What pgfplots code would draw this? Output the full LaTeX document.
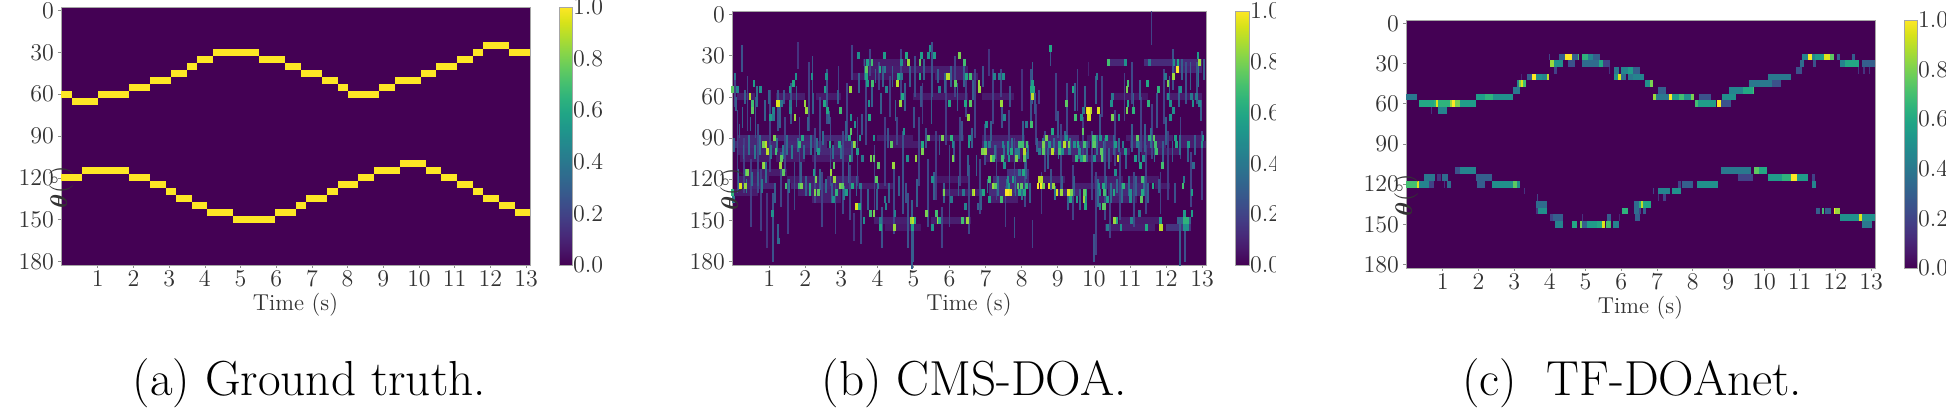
\documentclass[border=0pt]{standalone}
\usepackage{amsmath}
\usepackage{pgfplots}
\usepackage{pgfplotstable}
\pgfplotsset{compat=1.18}
\definecolor{vzero}{RGB}{68,1,84}
\pgfdeclareplotmark{cell}{%
  \pgfpathrectangle{\pgfpoint{-0.5*\cellw pt}{-0.5*\cellh pt}}{\pgfpoint{\cellw pt}{\cellh pt}}%
  \pgfusepathqfill}
\pgfplotsset{
  cellbase/.style={only marks,scatter,scatter src=explicit,mark=cell,
    scatter/use mapped color={fill=mapped color,draw=none}},
  seg/.style 2 args={cellbase,
    visualization depends on={(\thisrow{t1}-\thisrow{t0})*#1 \as \cellw},
    visualization depends on={#2 \as \cellh}},
  spot/.style 2 args={cellbase,
    visualization depends on={0.075*#1 \as \cellw},
    visualization depends on={#2 \as \cellh}},
  streak/.style 2 args={cellbase,
    visualization depends on={0.05*#1 \as \cellw},
    visualization depends on={\thisrow{h}/5*#2 \as \cellh}},
  panel/.style={
    scale only axis,
    colormap/viridis,
    point meta min=0,point meta max=1,
    xmin=-0.03,xmax=13.11,
    ymin=-2.5,ymax=182.5,y dir=reverse,
    xtick={1,...,13},ytick={0,30,...,180},
    axis background/.style={fill=vzero},
    axis line style={draw=black!35,line width=0.4pt},
    tick style={draw=black!45,line width=0.3pt},
    tick align=outside,
    major tick length=1.5pt,
    xtick pos=bottom,ytick pos=left,
    tick label style={font=\fontsize{12.5}{14}\selectfont,text=black!80},
    xticklabel style={yshift=2pt},
    yticklabel style={xshift=1.5pt},
    xlabel={Time (s)},ylabel={$\boldsymbol{\theta}(^\circ)$},
    label style={font=\fontsize{11.5}{13}\selectfont,text=black!80},
    xlabel style={at={(axis description cs:0.5,0)},anchor=center,yshift=-20pt},
    ylabel style={at={(axis description cs:0,0.5)},anchor=center,xshift=-25.5pt,rotate=0},
    colorbar,
  },
  cb/.style 2 args={colorbar style={
      at={(parent axis.south east)},anchor=south west,xshift=6pt,
      width=#1,height=#2,
      ytick={0,0.2,...,1},
      y dir=normal,
      axis line style={draw=black!35,line width=0.4pt},
      major tick length=0pt,
      yticklabel pos=right,
      tick label style={font=\fontsize{12.5}{14}\selectfont,text=black!80},
      yticklabel style={/pgf/number format/fixed,/pgf/number format/fixed zerofill,/pgf/number format/precision=1,xshift=-3pt},
      xlabel={},ylabel={},
  }},
}
% ---------- (a) ground truth: t0 t1 theta value
\pgfplotstableread{
t0 t1 th v
-0.03 0.27 60 1
0.27 1.00 65 1
1.00 1.87 60 1
1.87 2.45 55 1
2.45 3.04 50 1
3.04 3.49 45 1
3.49 3.78 40 1
3.78 4.22 35 1
4.22 5.52 30 1
5.52 6.25 35 1
6.25 6.68 40 1
6.68 7.28 45 1
7.28 7.72 50 1
7.72 8.01 55 1
8.01 8.88 60 1
8.88 9.32 55 1
9.32 10.05 50 1
10.05 10.48 45 1
10.48 11.07 40 1
11.07 11.50 35 1
11.50 11.80 30 1
11.80 12.53 25 1
12.53 13.12 30 1
-0.03 0.56 120 1
0.56 1.87 115 1
1.87 2.45 120 1
2.45 2.90 125 1
2.90 3.20 130 1
3.20 3.63 135 1
3.63 4.07 140 1
4.07 4.80 145 1
4.80 5.97 150 1
5.97 6.56 145 1
6.56 6.84 140 1
6.84 7.43 135 1
7.43 7.72 130 1
7.72 8.30 125 1
8.30 8.73 120 1
8.73 9.46 115 1
9.46 10.20 110 1
10.20 10.63 115 1
10.63 11.07 120 1
11.07 11.50 125 1
11.50 11.80 130 1
11.80 12.24 135 1
12.24 12.68 140 1
12.68 13.12 145 1
}\tga
% ---------- (b) CMS-DOA: wide faint stretches
\pgfplotstableread{
t0 t1 th v
0.10 1.00 90 .11
1.20 2.30 90 .1
2.50 3.20 90 .11
4.00 5.00 90 .07
5.40 6.40 90 .07
6.90 8.10 90 .08
8.60 9.60 90 .11
9.80 10.60 90 .08
10.90 12.20 90 .08
12.40 13.00 90 .08
0.00 1.20 95 .11
1.40 2.60 95 .11
2.80 3.30 95 .1
4.40 5.20 95 .07
6.90 8.20 95 .12
8.40 9.90 95 .14
10.00 10.70 95 .11
11.00 12.00 95 .1
12.40 13.10 95 .08
0.10 0.90 100 .1
1.00 2.20 100 .08
2.40 3.30 100 .11
6.90 8.20 100 .08
8.50 9.80 100 .11
10.00 11.00 100 .08
11.30 12.40 100 .07
0.20 1.00 105 .07
1.20 2.00 105 .07
2.20 3.20 105 .07
7.00 8.00 105 .07
9.40 10.50 105 .07
0.40 1.50 115 .07
7.60 8.20 115 .14
0.10 1.00 120 .08
1.50 2.40 120 .07
2.60 3.50 120 .1
5.50 6.50 120 .06
7.20 8.20 120 .12
8.60 9.20 120 .08
10.00 10.80 120 .08
11.00 11.80 120 .07
0.10 1.20 125 .1
1.60 3.20 125 .1
3.30 4.50 125 .07
7.10 8.20 125 .12
9.40 10.40 125 .08
10.40 11.40 125 .11
11.70 12.10 125 .07
0.00 0.70 130 .07
1.80 3.00 130 .08
5.80 6.90 130 .08
7.10 8.10 130 .12
8.90 9.60 130 .11
10.40 11.40 130 .11
7.10 7.90 135 .08
2.20 3.00 135 .08
10.10 11.20 135 .08
0.10 0.60 60 .08
1.20 2.00 60 .08
2.30 3.00 60 .07
5.00 6.50 60 .07
6.90 7.80 60 .07
10.50 11.50 60 .06
12.00 13.00 60 .08
3.70 5.40 40 .08
5.40 6.50 40 .08
12.20 13.00 40 .1
3.60 4.80 35 .07
10.40 10.90 35 .11
11.40 13.00 35 .12
3.30 4.60 45 .06
5.60 6.80 45 .08
3.90 5.00 150 .08
5.50 6.60 150 .08
10.70 11.90 150 .07
12.30 12.70 150 .3
4.20 5.20 155 .06
10.30 11.70 155 .08
12.00 12.70 155 .15
}\tbw
% ---------- (b) thin vertical streaks: t theta span value
\pgfplotstableread{
t th h v
.05 55 25 .2
.12 100 60 .2
.25 32 20 .25
.30 110 40 .18
.40 65 40 .2
.50 130 50 .18
.62 75 30 .25
.70 105 50 .22
.78 135 45 .18
.95 150 40 .15
1.03 85 60 .2
1.10 155 50 .25
1.25 70 30 .25
1.32 120 40 .2
1.44 95 40 .2
1.52 140 40 .18
1.60 65 30 .25
1.70 125 35 .22
1.80 30 20 .15
1.84 100 50 .2
2.10 60 50 .18
2.20 45 30 .25
2.28 110 55 .2
2.40 80 40 .2
2.47 135 40 .2
2.60 60 40 .25
2.70 100 50 .22
2.84 140 40 .2
2.92 50 25 .2
3.05 115 60 .22
3.15 70 40 .2
3.25 130 40 .2
3.35 155 20 .15
3.30 35 25 .2
3.45 100 50 .2
3.55 145 45 .22
3.68 70 50 .2
3.80 35 20 .2
3.92 120 50 .2
4.05 45 20 .2
4.12 155 30 .25
4.22 100 50 .18
4.35 60 30 .18
4.45 135 50 .22
4.55 85 20 .2
4.65 45 40 .2
4.72 115 60 .25
4.85 150 40 .25
4.95 160 50 .3
5.00 165 30 .3
5.05 45 30 .22
5.15 100 50 .2
5.25 65 30 .18
5.40 130 50 .22
5.52 40 40 .25
5.62 110 50 .18
5.78 155 30 .2
5.90 70 50 .18
6.00 125 60 .22
6.15 45 30 .2
6.30 100 50 .2
6.45 60 30 .2
6.55 135 50 .22
6.70 65 50 .2
6.85 125 40 .2
6.98 95 30 .22
7.10 35 20 .15
7.20 60 40 .2
7.30 115 40 .2
7.42 50 20 .2
7.55 140 30 .2
7.65 85 30 .18
7.80 110 40 .2
7.80 155 15 .25
8.00 55 30 .15
8.10 120 40 .22
8.25 60 40 .25
8.30 50 30 .3
8.30 160 20 .2
8.40 80 30 .18
8.55 130 30 .18
8.65 100 30 .22
8.80 30 15 .25
8.95 60 35 .2
9.10 105 50 .2
9.25 70 40 .22
9.42 130 40 .2
9.55 55 30 .2
9.70 90 30 .18
9.85 40 10 .1
9.95 110 50 .2
10.00 170 20 .25
10.05 145 60 .2
10.22 60 30 .2
10.30 120 60 .22
10.45 150 25 .2
10.58 90 40 .18
10.72 125 50 .2
10.85 60 35 .18
11.05 50 30 .22
11.12 135 40 .22
11.30 80 40 .2
11.45 120 50 .2
11.60 10 25 .2
11.62 85 40 .2
11.85 130 30 .2
11.95 60 40 .2
12.05 110 50 .18
12.20 40 30 .25
12.38 168 30 .3
12.40 90 30 .2
12.52 165 30 .25
12.55 50 30 .25
12.70 120 40 .2
12.85 50 30 .25
13.00 110 50 .2
1.24 160 15 .3
.03 95 10 .3
.08 65 10 .3
.15 120 15 .35
.18 85 10 .25
.26 75 15 .3
.29 100 10 .3
.32 60 10 .3
.37 125 10 .4
.44 95 15 .35
.48 80 10 .3
.52 120 10 .35
.60 100 10 .4
.66 60 15 .35
.68 120 10 .3
.74 95 15 .35
.80 125 10 .4
.88 70 15 .3
.92 115 15 .35
1.00 60 10 .3
1.06 100 10 .4
1.16 130 15 .3
1.21 95 10 .35
1.29 75 15 .3
1.38 100 10 .4
1.42 60 10 .25
1.50 95 15 .35
1.56 125 10 .35
1.64 100 10 .4
1.76 60 15 .3
1.79 95 10 .35
1.88 115 15 .3
1.96 100 10 .35
2.02 125 15 .3
2.08 80 10 .3
2.16 95 15 .35
2.22 65 15 .3
2.33 95 10 .35
2.42 120 15 .3
2.50 90 10 .35
2.57 125 10 .35
2.65 75 10 .3
2.74 130 15 .3
2.78 100 10 .35
2.90 60 10 .3
2.99 100 10 .35
3.08 130 10 .4
3.12 85 15 .3
3.20 115 15 .3
3.30 100 15 .3
3.42 125 15 .3
3.50 50 15 .3
3.58 80 15 .25
3.64 40 15 .3
3.75 135 15 .3
3.84 60 15 .3
3.95 45 10 .3
4.00 135 15 .3
4.10 65 15 .3
4.16 45 15 .3
4.30 90 15 .25
4.33 130 15 .3
4.42 45 15 .3
4.50 70 15 .3
4.60 125 15 .3
4.76 60 20 .3
4.80 130 15 .25
4.90 45 15 .3
5.02 75 15 .25
5.10 130 20 .3
5.20 60 15 .25
5.30 40 15 .3
5.35 90 15 .25
5.50 70 20 .3
5.56 125 20 .3
5.68 45 10 .3
5.72 95 15 .25
5.84 130 15 .3
5.88 50 15 .3
6.05 45 15 .3
6.12 100 15 .25
6.22 60 20 .3
6.25 125 15 .3
6.34 85 15 .25
6.40 45 15 .3
6.52 110 15 .3
6.62 90 15 .3
6.66 55 15 .3
6.75 110 15 .3
6.88 135 15 .3
6.92 45 15 .25
7.05 125 10 .35
7.15 85 15 .3
7.26 100 10 .35
7.35 125 15 .35
7.45 75 15 .25
7.52 100 10 .35
7.60 125 10 .35
7.68 60 15 .25
7.74 95 10 .35
7.83 125 15 .35
7.92 100 10 .4
8.00 130 10 .35
8.04 85 15 .3
8.12 110 20 .3
8.18 100 10 .35
8.22 130 15 .3
8.36 65 15 .25
8.42 95 10 .3
8.48 60 10 .2
8.58 95 10 .35
8.72 105 15 .3
8.82 120 15 .25
8.90 95 10 .35
8.93 130 10 .4
9.00 80 20 .25
9.02 100 10 .4
9.12 125 15 .3
9.20 90 10 .35
9.28 135 15 .3
9.35 95 10 .4
9.45 125 15 .3
9.48 60 20 .3
9.58 100 10 .35
9.62 135 15 .3
9.75 60 15 .3
9.80 100 15 .3
10.05 55 20 .3
10.08 95 15 .35
10.12 130 20 .35
10.18 80 15 .25
10.27 100 15 .35
10.33 125 15 .3
10.42 105 15 .3
10.48 130 15 .35
10.55 95 15 .3
10.65 125 10 .35
10.70 95 10 .35
10.78 130 15 .35
10.90 105 15 .3
10.98 125 15 .35
11.05 90 20 .3
11.10 65 15 .3
11.18 125 15 .3
11.25 100 15 .3
11.28 55 15 .3
11.38 125 15 .35
11.42 90 20 .3
11.50 130 15 .3
11.58 90 15 .35
11.68 100 15 .35
11.74 70 25 .25
11.80 125 10 .25
11.92 100 15 .3
12.00 85 20 .3
12.10 55 20 .3
12.18 100 15 .3
12.24 130 15 .25
12.35 60 15 .3
12.38 95 15 .35
12.45 40 15 .3
12.62 100 15 .3
12.68 45 20 .3
12.80 95 15 .3
12.90 45 15 .4
12.96 70 15 .3
13.05 40 15 .3
}\tbs
% ---------- (b) brighter single cells: t theta value
\pgfplotstableread{
t th v
-.01 55 .75
-.01 130 .65
.01 135 .4
.05 45 .4
.12 55 .45
.21 125 .95
.34 125 .85
.36 115 .7
.40 115 .8
.58 50 .55
.47 60 .9
.54 65 .7
.54 70 .75
.76 55 .5
.84 95 .8
.91 95 .9
.96 100 .9
.84 110 .8
.86 110 .85
1.23 65 .95
1.27 65 .95
1.35 65 .4
1.12 70 .45
1.04 75 .55
1.12 75 .4
1.14 90 .8
1.19 100 .7
1.35 105 .75
1.32 110 .85
1.39 115 .75
1.47 125 .7
1.58 55 .5
1.60 65 .4
1.60 70 .45
1.72 75 .85
1.74 45 .5
1.67 50 .6
1.85 95 .65
1.93 90 .6
1.85 125 .7
1.89 125 .8
1.99 65 .85
2.04 70 .85
2.19 45 .5
2.13 125 .6
2.13 130 .6
2.24 115 .55
2.30 120 .8
2.27 130 .8
2.36 130 .75
2.36 100 .55
2.55 55 .55
2.59 45 .5
2.53 65 .6
2.61 70 .6
2.69 95 .6
2.71 115 .85
2.82 120 .85
2.80 110 .75
2.87 130 .65
2.78 135 .5
2.96 125 .8
3.04 125 .75
2.98 70 .7
2.94 95 .6
3.22 90 .6
3.24 55 .7
3.36 95 .75
3.24 105 .5
1.09 145 .5
1.25 165 .35
3.15 130 .55
3.47 30 .5
3.26 55 .85
3.72 35 .55
3.85 35 .7
3.70 40 .75
3.70 45 .6
3.72 50 .55
3.87 50 .7
4.19 30 .55
4.07 40 .6
4.21 40 .4
4.26 55 .45
4.55 50 .9
4.58 45 .6
4.67 45 .4
4.81 30 .6
4.86 35 .85
4.67 35 .5
5.18 35 .75
5.22 30 .55
5.18 45 .6
5.41 30 .5
5.58 30 .55
5.46 25 .5
5.94 45 .9
5.98 45 .9
6.27 30 .8
6.42 35 .7
6.47 45 .6
6.58 45 .7
6.17 50 .75
5.73 55 .45
3.77 65 .5
4.64 65 .85
4.70 60 .6
5.99 65 .6
6.45 65 .6
6.58 65 .7
3.27 75 .5
3.79 75 .6
3.38 80 .5
3.27 85 .75
6.52 75 .85
4.74 85 .5
3.52 90 .5
3.35 95 .85
3.91 90 .5
4.39 95 .75
5.41 90 .75
5.80 90 .8
6.06 90 .65
5.25 95 .6
5.25 100 .8
6.10 95 .45
6.54 95 .55
3.24 105 .65
3.44 100 .55
3.59 105 .4
3.82 105 .8
3.91 105 .75
4.84 105 .5
5.07 105 .85
6.10 105 .8
4.03 110 .75
4.44 110 .85
3.98 120 .75
3.54 125 .4
4.02 125 .4
3.31 125 .6
5.53 120 .5
5.85 130 .8
6.66 130 .95
6.38 130 .4
3.41 140 .95
3.45 140 .95
3.50 140 .6
4.21 135 .4
4.24 140 .45
3.63 150 .5
3.81 145 .7
3.91 145 .8
4.09 150 .4
4.09 155 .6
4.47 155 .85
4.49 145 .45
4.95 150 .85
4.99 150 .9
4.98 155 .55
5.04 150 .6
5.36 145 .8
5.64 145 .7
5.69 150 .85
5.73 150 .6
5.53 155 .5
6.36 150 .7
6.49 150 .85
6.06 135 .4
6.45 140 .45
8.80 25 .6
6.59 45 .7
6.82 50 .85
6.84 55 .85
7.25 45 .45
7.39 45 .4
7.50 45 .5
8.30 50 .55
8.27 55 .6
8.33 55 .6
8.30 60 .9
6.59 65 .75
7.44 65 .85
9.42 55 .6
9.24 65 .75
9.82 70 .95
9.90 70 .9
9.86 75 .95
9.72 70 .4
8.27 80 .7
8.13 80 .4
7.02 80 .5
9.50 75 .7
9.65 75 .5
7.53 75 .45
8.85 85 .6
9.70 85 .75
8.68 90 .8
9.24 90 .5
9.99 90 .7
6.56 90 .5
7.00 95 .5
7.10 95 .4
7.48 95 .45
7.62 95 .5
7.94 95 .7
8.02 95 .7
8.15 95 .7
8.61 95 .8
8.78 95 .5
9.05 95 .6
9.19 95 .9
9.31 95 .8
9.47 95 .5
9.56 95 .6
9.74 95 .5
9.99 95 .7
6.91 100 .8
7.00 100 .85
7.62 100 .5
7.71 100 .6
7.85 100 .4
8.08 100 .9
8.50 100 .4
8.61 100 .75
8.85 100 .9
9.05 100 .7
9.14 100 .5
9.33 100 .4
9.61 100 .5
7.16 105 .85
7.21 105 .7
7.46 105 .7
7.65 105 .5
7.85 105 .8
8.08 105 .75
9.51 105 .65
9.65 105 .55
7.53 110 .5
7.94 115 .4
8.06 115 .6
7.11 120 .7
7.62 120 .5
7.76 120 .55
8.50 120 .9
8.54 120 .9
7.21 125 .85
7.28 125 .75
7.65 125 .55
7.90 125 .75
7.99 125 .75
8.13 125 .65
8.45 125 1
8.54 125 1
8.61 125 .8
8.76 125 .95
8.89 125 .85
6.65 130 .85
6.95 130 .6
7.58 130 1
7.62 130 1
7.69 130 .95
7.94 130 .6
8.08 130 .6
8.98 130 .95
9.10 130 .85
9.29 130 .95
9.38 130 .8
9.77 130 .6
7.11 135 .55
7.44 135 .7
9.36 135 .6
9.53 135 .55
9.73 135 .85
6.79 140 .3
9.77 140 .6
12.89 30 .55
12.93 35 .85
10.40 35 .7
10.88 35 .5
11.55 35 .4
12.22 35 .5
12.33 35 .6
12.31 40 1
12.20 45 .85
12.06 50 .8
11.99 45 .4
10.95 50 .7
10.92 55 .8
11.49 50 .6
11.80 55 .65
12.41 55 .5
12.06 60 .5
12.70 60 .4
12.84 60 .4
10.09 45 .4
9.86 70 1
9.92 70 .9
10.12 70 .95
9.89 75 .95
10.51 75 .8
10.51 60 .4
10.49 65 .5
10.92 70 .8
10.95 65 .6
11.09 70 .65
11.52 65 .65
12.13 65 .5
12.20 70 .5
12.75 65 .5
12.93 65 .45
12.13 75 .5
10.70 75 .55
10.01 90 .7
10.35 90 .6
10.19 90 .5
11.21 90 .75
11.55 90 .65
11.67 90 .75
12.26 90 .55
13.03 90 .5
10.01 95 .75
9.75 95 .7
10.61 95 .55
10.81 95 .4
11.21 95 .4
11.71 95 .7
12.29 95 .6
12.63 95 .55
13.00 95 .5
10.21 100 .75
10.88 100 .55
11.73 100 .7
9.75 105 .75
10.01 105 .5
10.23 105 .75
10.67 105 .9
11.15 105 .55
11.37 105 .5
11.30 110 .6
11.90 110 .7
12.77 110 .35
11.34 120 .7
10.60 115 .5
12.50 120 .4
10.26 125 .6
10.14 125 .5
10.83 125 .65
11.64 125 .6
12.47 125 .7
9.75 130 .75
10.29 130 .7
10.17 130 .5
10.56 130 .6
11.01 130 .5
11.34 130 .6
12.72 130 .55
9.78 135 .5
10.26 140 .75
10.31 140 .75
10.38 135 .55
11.32 135 .75
11.01 135 .5
10.17 140 .45
10.58 150 .85
10.64 150 .6
11.46 155 .6
11.85 155 .9
11.89 155 .9
11.85 150 .55
12.50 150 .65
12.55 150 .65
12.60 150 .65
12.50 155 .5
12.55 155 .5
12.60 155 .5
12.52 145 .55
12.72 145 .55
10.75 155 .5
10.38 155 .4
11.04 150 .45
11.27 145 .4
}\tbh
% ---------- (c) TF-DOAnet: t0 t1 theta value
\pgfplotstableread{
t0 t1 th v
-0.03 0.28 55 .4
0.32 0.74 60 .6
0.74 0.80 60 .65
0.80 0.86 60 .95
0.86 1.19 60 .65
1.19 1.26 60 .85
1.26 1.35 60 1
1.35 1.49 60 .8
1.49 1.93 60 .55
0.86 1.12 65 .45
0.68 0.70 65 .15
1.93 2.19 55 .55
2.19 2.42 55 .65
2.42 2.96 55 .5
2.98 3.16 50 .4
3.07 3.13 45 .45
3.13 3.18 45 .8
3.18 3.26 45 .95
3.26 3.33 45 .7
3.37 3.49 40 .3
3.49 3.61 40 1
3.61 3.77 40 .5
3.77 3.93 40 .45
3.93 3.98 40 .9
3.19 3.21 40 .1
4.00 4.11 30 .85
4.11 4.36 30 .5
4.51 4.70 30 .25
4.89 5.38 30 .35
5.38 5.49 30 .6
5.49 5.68 30 .2
3.97 4.00 25 .2
4.26 4.42 25 .3
4.42 4.61 25 1
4.61 4.79 25 .3
4.79 4.82 25 .7
4.89 5.07 25 .65
5.07 5.21 25 .45
5.21 5.40 25 .3
4.11 4.19 35 .2
5.65 5.68 35 .15
5.79 5.94 35 .4
6.00 6.19 35 .45
6.19 6.33 35 .55
6.33 6.52 35 .3
5.79 5.91 40 .5
5.91 6.00 40 .95
6.00 6.14 40 .35
6.19 6.33 40 .4
6.33 6.65 40 .45
6.67 6.81 45 .5
6.81 6.88 45 .8
7.02 7.25 50 .3
6.90 6.96 55 .85
6.96 7.35 55 .4
7.35 7.42 55 1
7.42 7.63 55 .55
7.63 7.77 55 .7
7.77 7.95 55 .5
7.95 8.05 55 .8
8.17 8.51 55 .25
8.07 8.14 60 .7
8.14 8.65 60 .55
8.67 8.79 60 1
8.79 9.07 60 .25
8.82 9.21 55 .5
9.01 9.40 50 .45
9.40 9.68 50 .6
9.68 9.72 50 .7
9.58 10.23 45 .4
10.23 10.47 45 .25
10.12 10.75 40 .4
10.90 11.05 35 .25
11.01 11.12 30 .35
11.37 11.47 30 .25
12.12 12.26 30 .45
12.26 12.66 30 .6
12.75 13.11 30 .3
11.07 11.24 25 .45
11.24 11.35 25 1
11.35 11.44 25 .45
11.44 11.68 25 .55
11.68 11.86 25 .95
11.86 11.96 25 .75
12.05 12.14 25 .3
12.47 12.54 25 .3
12.64 12.66 35 .15
12.77 12.84 35 .15
12.93 12.98 35 .15
1.49 1.93 110 .45
1.35 1.49 110 .25
0.48 0.79 115 .4
0.84 0.95 115 .15
0.98 1.16 115 .35
1.93 2.37 115 .3
-0.03 0.28 120 .7
0.28 0.32 120 .95
0.32 0.60 120 .45
0.60 0.74 120 .2
1.02 1.07 120 .15
1.13 1.23 120 .35
1.97 2.19 120 .3
2.37 2.96 120 .5
2.96 3.07 120 .75
3.07 3.15 120 .5
3.28 3.30 125 .15
3.65 3.67 130 .2
3.61 3.91 135 .35
3.61 3.67 140 .15
3.67 3.91 140 .5
4.00 4.10 145 .2
4.10 4.36 145 .3
5.59 5.70 145 .3
6.03 6.18 140 .65
6.35 6.52 135 .35
6.35 6.52 140 .35
6.38 6.52 145 .3
4.14 4.36 150 .45
4.61 4.75 150 .6
4.84 4.89 150 .8
4.89 5.03 150 .3
5.05 5.31 150 .55
5.31 5.45 150 .6
5.45 5.54 150 .95
5.57 5.70 150 .7
5.77 5.94 150 .45
4.89 4.93 145 .15
5.94 5.97 145 .1
8.79 9.63 110 .4
9.72 9.86 110 .75
9.86 10.09 110 .6
10.12 10.51 115 .55
10.51 10.75 115 .65
10.75 10.93 115 1
10.93 11.24 115 .55
11.35 11.44 115 .2
9.26 9.68 115 .2
7.58 7.67 120 .2
7.70 8.00 120 .3
8.11 8.70 120 .5
11.33 11.47 120 .45
7.02 7.37 125 .45
7.42 7.67 125 .5
7.02 7.05 130 .15
7.18 7.25 130 .2
6.88 6.90 125 .2
6.51 6.84 135 .6
6.56 6.62 135 .9
6.51 6.54 140 .2
6.62 6.68 140 .3
11.46 11.58 140 .3
11.63 11.68 140 .7
11.72 11.89 140 .3
11.96 12.00 140 1
12.00 12.14 140 .85
12.14 12.66 145 .5
12.66 12.75 145 .95
12.75 13.11 145 .5
12.75 13.03 150 .4
}\tcs
\begin{document}
\begin{tikzpicture}[x=1pt,y=1pt]
\path[use as bounding box] (0,0) rectangle (973,205);
% (a)
\begin{axis}[panel,at={(30.5pt,72.5pt)},anchor=south west,width=234.5pt,height=129pt,cb={6.5pt}{129pt}]
\addplot[seg={17.85}{3.49}] table[x expr={(\thisrow{t0}+\thisrow{t1})/2},y=th,meta=v] {\tga};
\end{axis}
\node[font=\fontsize{24.6}{29}\selectfont] at (154.7,13.5) {(a) Ground truth.};
% (b)
\begin{axis}[panel,at={(366pt,72.5pt)},anchor=south west,width=237pt,height=127pt,cb={7pt}{127pt}]
\addplot[seg={18.04}{3.44}] table[x expr={(\thisrow{t0}+\thisrow{t1})/2},y=th,meta=v] {\tbw};
\addplot[streak={18.04}{3.44}] table[x=t,y=th,meta=v] {\tbs};
\addplot[spot={18.04}{3.44}] table[x=t,y=th,meta=v] {\tbh};
\end{axis}
\path[fill=white] (638,60) rectangle (660,205);
\node[font=\fontsize{24.6}{29}\selectfont] at (487,13.5) {(b) CMS-DOA.};
% (c)
\begin{axis}[panel,at={(703pt,71pt)},anchor=south west,width=234.5pt,height=124pt,cb={6.5pt}{124pt}]
\addplot[seg={17.85}{3.35}] table[x expr={(\thisrow{t0}+\thisrow{t1})/2},y=th,meta=v] {\tcs};
\end{axis}
\node[font=\fontsize{24.6}{29}\selectfont] at (816,13.5) {(c)\ \ TF-DOAnet.};
\end{tikzpicture}
\end{document}
